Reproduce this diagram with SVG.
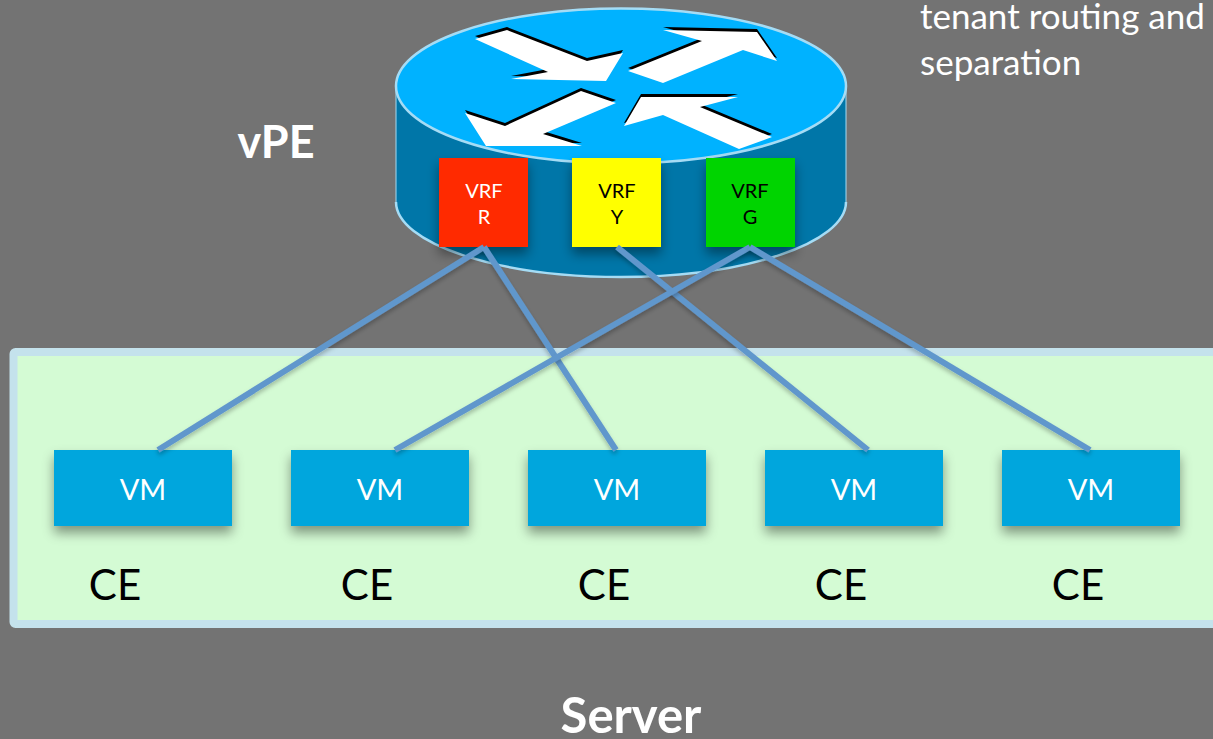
<svg xmlns="http://www.w3.org/2000/svg" width="1213" height="739" viewBox="0 0 1213 739">
<style>
text{font-family:"Lato","Carlito","Open Sans",sans-serif}
.lbl{font-size:35px;fill:#fff}
.ce{font-size:42px;fill:#000;text-anchor:middle}
.vm{fill:#00a6dd;filter:url(#sh)}
.vmt{font-size:29px;fill:#fff;text-anchor:middle}
.vrf{font-size:20px;text-anchor:middle}
.sq{filter:url(#sh)}
.con{fill:none;stroke:#6197cc;stroke-width:6;filter:url(#sl)}
.rim{stroke:#a5dcf5;stroke-width:2.5}
</style>
<defs>
<filter id="sh" x="-20%" y="-20%" width="140%" height="160%"><feDropShadow dx="0" dy="7" stdDeviation="6" flood-color="#000" flood-opacity=".4"/></filter>
<filter id="sl" x="-10%" y="-10%" width="120%" height="120%"><feDropShadow dx="0" dy="3" stdDeviation="2" flood-color="#000" flood-opacity=".25"/></filter>
</defs>
<rect width="1213" height="739" fill="#737373"/>
<g id="server">
<rect x="13.5" y="352" width="1230" height="272" rx="2" fill="#d4fbd4" stroke="#c4e2ec" stroke-width="8"/>
<text x="631" y="733" font-size="49" font-weight="700" fill="#fff" text-anchor="middle">Server</text>
</g>
<g id="router">
<path d="M396 86V202C396 243 497 277 621 277S846 243 846 202V86Z" fill="#0076a8"/>
<path class="rim" d="M396 202C396 243 497 277 621 277S846 243 846 202" fill="none"/>
<path d="M396 86V202M846 86V202" stroke="#a5dcf5" stroke-width="1"/>
<ellipse class="rim" cx="621" cy="86" rx="225" ry="77.5" fill="#00b2ff"/>
<g fill="#000" transform="translate(0 -3)">
<polygon points="475,39 507,30 587,61 623,53 606,81 511,79 548,72"/>
<polygon points="663,30 757,32 777,61 743,50 663,83 628,71 702,41"/>
<polygon points="465,113 505,126 581,91 616,103 543,134 582,146 486,146"/>
<polygon points="641,97 738,97 700,107 772,137 739,149 663,115 624,126"/>
</g>
<g fill="#fff">
<polygon points="475,39 507,30 587,61 623,53 606,81 511,79 548,72"/>
<polygon points="663,30 757,32 777,61 743,50 663,83 628,71 702,41"/>
<polygon points="465,113 505,126 581,91 616,103 543,134 582,146 486,146"/>
<polygon points="641,97 738,97 700,107 772,137 739,149 663,115 624,126"/>
</g>
</g>
<g id="vrf-r"><rect class="sq" x="439" y="158" width="89" height="89" fill="#ff2a00"/><text class="vrf" fill="#fff" x="484" y="198">VRF</text><text class="vrf" fill="#fff" x="484" y="224">R</text></g>
<g id="vrf-y"><rect class="sq" x="572" y="158" width="89" height="89" fill="#ffff00"/><text class="vrf" fill="#000" x="617" y="198">VRF</text><text class="vrf" fill="#000" x="617" y="224">Y</text></g>
<g id="vrf-g"><rect class="sq" x="706" y="158" width="89" height="89" fill="#00d400"/><text class="vrf" fill="#000" x="750" y="198">VRF</text><text class="vrf" fill="#000" x="750" y="224">G</text></g>
<g id="vm1"><rect class="vm" x="54" y="450" width="178" height="76"/><text class="vmt" x="143" y="500">VM</text></g>
<g id="vm2"><rect class="vm" x="291" y="450" width="178" height="76"/><text class="vmt" x="380" y="500">VM</text></g>
<g id="vm3"><rect class="vm" x="528" y="450" width="178" height="76"/><text class="vmt" x="617" y="500">VM</text></g>
<g id="vm4"><rect class="vm" x="765" y="450" width="178" height="76"/><text class="vmt" x="854" y="500">VM</text></g>
<g id="vm5"><rect class="vm" x="1002" y="450" width="178" height="76"/><text class="vmt" x="1091" y="500">VM</text></g>
<g id="connectors">
<path class="con" d="M484 247L158 450"/>
<path class="con" d="M484 247L616 450"/>
<path class="con" d="M617 247L868 450"/>
<path class="con" d="M750 247L395 450"/>
<path class="con" d="M750 247L1090 450"/>
</g>
<g id="labels">
<text x="115" y="600" class="ce">CE</text>
<text x="367" y="600" class="ce">CE</text>
<text x="604" y="600" class="ce">CE</text>
<text x="841" y="600" class="ce">CE</text>
<text x="1078" y="600" class="ce">CE</text>
<text x="276" y="158" font-size="45" font-weight="700" fill="#fff" text-anchor="middle">vPE</text>
<text x="920" y="29" class="lbl">tenant routing and</text>
<text x="920" y="75" class="lbl">separation</text>
</g>
</svg>
